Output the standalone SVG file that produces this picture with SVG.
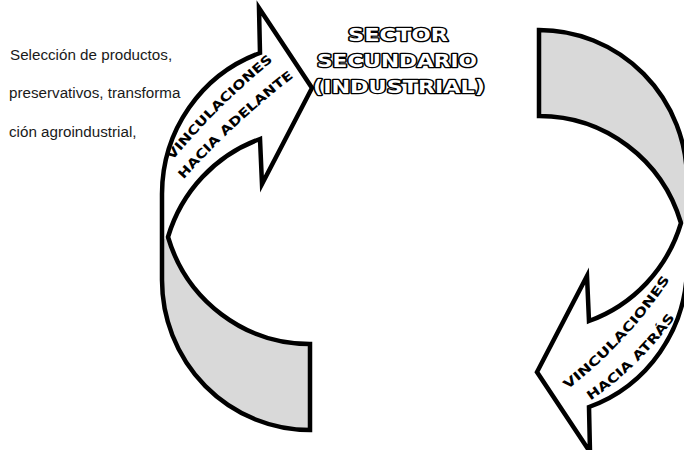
<svg xmlns="http://www.w3.org/2000/svg" xmlns:xlink="http://www.w3.org/1999/xlink" width="684" height="450" viewBox="0 0 684 450">
<style>
.fillw{fill:#fff;stroke:none}
.band{fill:#d9d9d9;stroke:none}
.edge{fill:none;stroke:#000;stroke-width:4.5;stroke-linejoin:miter;stroke-miterlimit:10}
.body{font-family:"Liberation Sans",Arial,sans-serif;font-size:15.2px;fill:#1a1a1a}
.title{font-family:"DejaVu Sans",sans-serif;font-weight:bold;font-size:17px;fill:#fff;stroke:#000;stroke-width:2.6;paint-order:stroke;stroke-linejoin:round;text-anchor:middle}
.lab{font-family:"DejaVu Sans",sans-serif;font-weight:bold;font-size:12.5px;fill:#000}
</style>
<defs>
<path id="arrowOutline" d="M 310,430 A 148 150 0 0 1 162,280 L 162,194 A 148 150 0 0 1 260,53 L 259,8 L 312,88 L 262,184 L 260,139 A 148 150 0 0 0 168,237 A 148 150 0 0 0 310,344 Z"/>
<path id="arrowBand" d="M 168,237 A 148 150 0 0 0 310,344 L 310,430 A 148 150 0 0 1 162,280 L 162,240 Z"/>
<path id="pL1" d="M 172.5,160.5 Q 218,105.5 273.5,60.5"/>
<path id="pL2" d="M 183.5,179.5 Q 234,123 294.5,76.5"/>
<path id="pR1" d="M 567.5,389.5 Q 628.5,342.5 670.5,278.5"/>
<path id="pR2" d="M 590.5,400.5 Q 641,366 676,316"/>
</defs>

<g id="left-text" class="body">
<text x="10" y="60">Selección de productos,</text>
<text x="9" y="98">preservativos, transforma</text>
<text x="9" y="137">ción agroindustrial,</text>
</g>

<g id="sector-secundario" class="title">
<text x="398" y="41" textLength="100" lengthAdjust="spacingAndGlyphs">SECTOR</text>
<text x="397" y="67" textLength="160" lengthAdjust="spacingAndGlyphs">SECUNDARIO</text>
<text x="399" y="93" textLength="172" lengthAdjust="spacingAndGlyphs">(INDUSTRIAL)</text>
</g>

<g id="connectors">
<g id="arrow-adelante">
<use xlink:href="#arrowOutline" class="fillw"/>
<use xlink:href="#arrowBand" class="band"/>
<use xlink:href="#arrowOutline" class="edge"/>
<text class="lab"><textPath xlink:href="#pL1" textLength="142" lengthAdjust="spacingAndGlyphs">VINCULACIONES</textPath></text>
<text class="lab"><textPath xlink:href="#pL2" textLength="151" lengthAdjust="spacingAndGlyphs">HACIA ADELANTE</textPath></text>
</g>
<g id="arrow-atras">
<g transform="rotate(180 424.5 230)">
<use xlink:href="#arrowOutline" class="fillw"/>
<use xlink:href="#arrowBand" class="band"/>
<use xlink:href="#arrowOutline" class="edge"/>
</g>
<text class="lab"><textPath xlink:href="#pR1" textLength="151" lengthAdjust="spacingAndGlyphs">VINCULACIONES</textPath></text>
<text class="lab"><textPath xlink:href="#pR2" textLength="119" lengthAdjust="spacingAndGlyphs">HACIA ATRÁS</textPath></text>
</g>
</g>
</svg>
